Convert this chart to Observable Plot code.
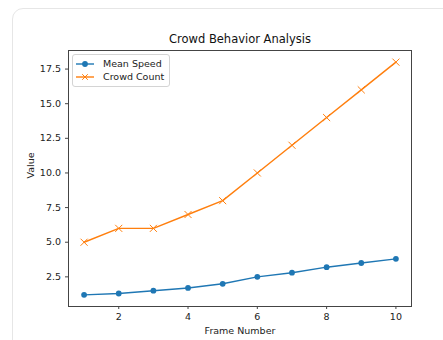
<!DOCTYPE html>
<html>
<head>
<meta charset="utf-8">
<script src="https://cdn.jsdelivr.net/npm/d3@7"></script>
<script src="https://cdn.jsdelivr.net/npm/@observablehq/plot@0.6"></script>
<style>
  html, body { margin: 0; padding: 0; background: #fff; width: 443px; height: 340px; overflow: hidden; font-family: "DejaVu Sans", sans-serif; }
  #card { position: absolute; left: 12px; top: 8px; width: 460px; height: 345px; border: 1px solid #e6e6e6; border-radius: 11px; box-sizing: border-box; }
  #chart { position: absolute; left: 0; top: 0; }
  #legend { position: absolute; left: 72px; top: 54px; width: 98px; height: 33px; border: 1px solid #d4d4d4; border-radius: 3px; background: rgba(255,255,255,0.8); box-sizing: border-box; font-size: 9.5px; color: #222; }
  .row { position: absolute; left: 0; height: 12px; }
  .row svg { position: absolute; left: 2px; top: 0; }
  .row span { position: absolute; left: 30px; top: 0; line-height: 12px; white-space: nowrap; }
</style>
</head>
<body>
<div id="card"></div>
<div id="chart"></div>
<div id="legend">
  <div class="row" style="top:2.5px"><svg width="20" height="12"><line x1="1" y1="6" x2="19" y2="6" stroke="#1f77b4" stroke-width="1.4"/><circle cx="10" cy="6" r="2.9" fill="#1f77b4"/></svg><span>Mean Speed</span></div>
  <div class="row" style="top:16px"><svg width="20" height="12"><line x1="1" y1="6" x2="19" y2="6" stroke="#ff7f0e" stroke-width="1.4"/><path d="M7.2,3.2L12.8,8.8M12.8,3.2L7.2,8.8" stroke="#ff7f0e" stroke-width="1"/></svg><span>Crowd Count</span></div>
</div>
<script>
const title = "Crowd Behavior Analysis";
const xLabel = "Frame Number";
const yLabel = "Value";
const frames = [1, 2, 3, 4, 5, 6, 7, 8, 9, 10];
const meanSpeed = [1.2, 1.3, 1.5, 1.7, 2.0, 2.5, 2.8, 3.2, 3.5, 3.8];
const crowdCount = [5, 6, 6, 7, 8, 10, 12, 14, 16, 18];
const xTicks = [2, 4, 6, 8, 10];
const yTicks = [2.5, 5.0, 7.5, 10.0, 12.5, 15.0, 17.5];

const speedData = frames.map((f, i) => ({frame: f, value: meanSpeed[i]}));
const countData = frames.map((f, i) => ({frame: f, value: crowdCount[i]}));

const font = "DejaVu Sans, sans-serif";
const plot = Plot.plot({
  width: 443,
  height: 340,
  marginLeft: 68,
  marginRight: 32,
  marginTop: 50,
  marginBottom: 34,
  style: {fontFamily: font, fontSize: "9.5px", color: "#222", background: "transparent"},
  x: {domain: [0.55, 10.45]},
  y: {domain: [0.36, 18.84]},
  marks: [
    Plot.axisX({ticks: xTicks, tickSize: 3, tickPadding: 4, label: null, tickFormat: d3.format("d"), stroke: "#444"}),
    Plot.axisY({ticks: yTicks, tickSize: 3, tickPadding: 4.5, label: null, tickFormat: d3.format(".1f"), stroke: "#444"}),
    Plot.line(speedData, {x: "frame", y: "value", stroke: "#1f77b4", strokeWidth: 1.45}),
    Plot.dot(speedData, {x: "frame", y: "value", fill: "#1f77b4", r: 2.9, stroke: null}),
    Plot.line(countData, {x: "frame", y: "value", stroke: "#ff7f0e", strokeWidth: 1.45}),
    Plot.dot(countData, {x: "frame", y: "value", symbol: "times", stroke: "#ff7f0e", strokeWidth: 1, r: 3.3}),
    Plot.frame({stroke: "#444", strokeWidth: 1}),
    Plot.text([title], {frameAnchor: "top", dy: -11, lineAnchor: "middle", fontSize: 11.5, fill: "#111"}),
    Plot.text([xLabel], {frameAnchor: "bottom", dy: 24, lineAnchor: "middle", fontSize: 9.5, fill: "#222"}),
    Plot.text([yLabel], {frameAnchor: "left", rotate: -90, dx: -38, lineAnchor: "middle", fontSize: 9.5, fill: "#222"})
  ]
});
document.getElementById("chart").appendChild(plot);
</script>
</body>
</html>
